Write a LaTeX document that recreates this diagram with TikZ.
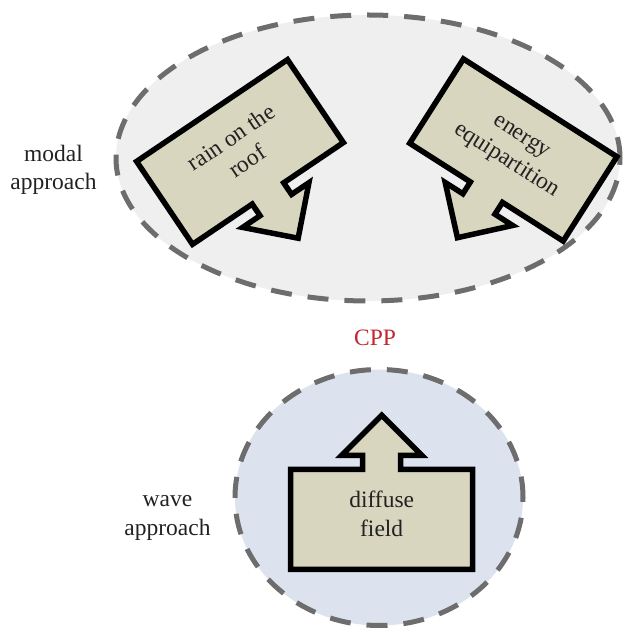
\documentclass[tikz,border=0pt]{standalone}
\usepackage{fontspec}
\setmainfont{Liberation Serif}
\definecolor{boxfill}{HTML}{D9D6BF}
\definecolor{ellfill}{HTML}{EFEFEF}
\definecolor{cirfill}{HTML}{DCE3EE}
\definecolor{dashgray}{HTML}{6D6D6D}
\definecolor{cppred}{HTML}{C4262E}
\definecolor{txt}{HTML}{222222}
\tikzset{
  zone/.style={draw=dashgray, line width=5pt, dash pattern=on 21pt off 16pt},
  arrowbox/.style={draw=black, fill=boxfill, line width=5.5pt, line join=miter, miter limit=10},
  lbl/.style={font=\fontsize{23.5}{28.5}\selectfont, text=txt, align=center, inner sep=0pt},
  arrowshape/.pic={
    \draw[arrowbox] (-91,-50) -- (91,-50) -- (91,50) -- (19,50) -- (19,64) -- (40,64)
      -- (0,104) -- (-40,64) -- (-19,64) -- (-19,50) -- (-91,50) -- cycle;
  }
}
\begin{document}
\begin{tikzpicture}[x=1pt,y=1pt]
\useasboundingbox (0,0) rectangle (628,630);
% zones
\draw[zone, fill=ellfill] (368,472) ellipse [x radius=252pt, y radius=143pt];
\draw[zone, fill=cirfill] (379,132.5) ellipse [x radius=144pt, y radius=128pt];
% arrow boxes
\pic[rotate=214] at (240,478) {arrowshape};
\pic[rotate=147.5] at (513.3,480) {arrowshape};
\pic at (381.7,110.7) {arrowshape};
% texts
\node[lbl, rotate=34] (rain) at (239,481) {rain on the\\roof};
\node[lbl, rotate=-32.5] (energy) at (513.3,480) {energy\\equipartition};
\node[lbl] (diffuse) at (381.7,116) {diffuse\\field};
\node[lbl] (modal) at (53.5,460) {modal\\approach};
\node[lbl] (wave) at (167.5,112) {wave\\approach};
\node[lbl, text=cppred, anchor=base] (cpp) at (375,284) {CPP};
\end{tikzpicture}
\end{document}
